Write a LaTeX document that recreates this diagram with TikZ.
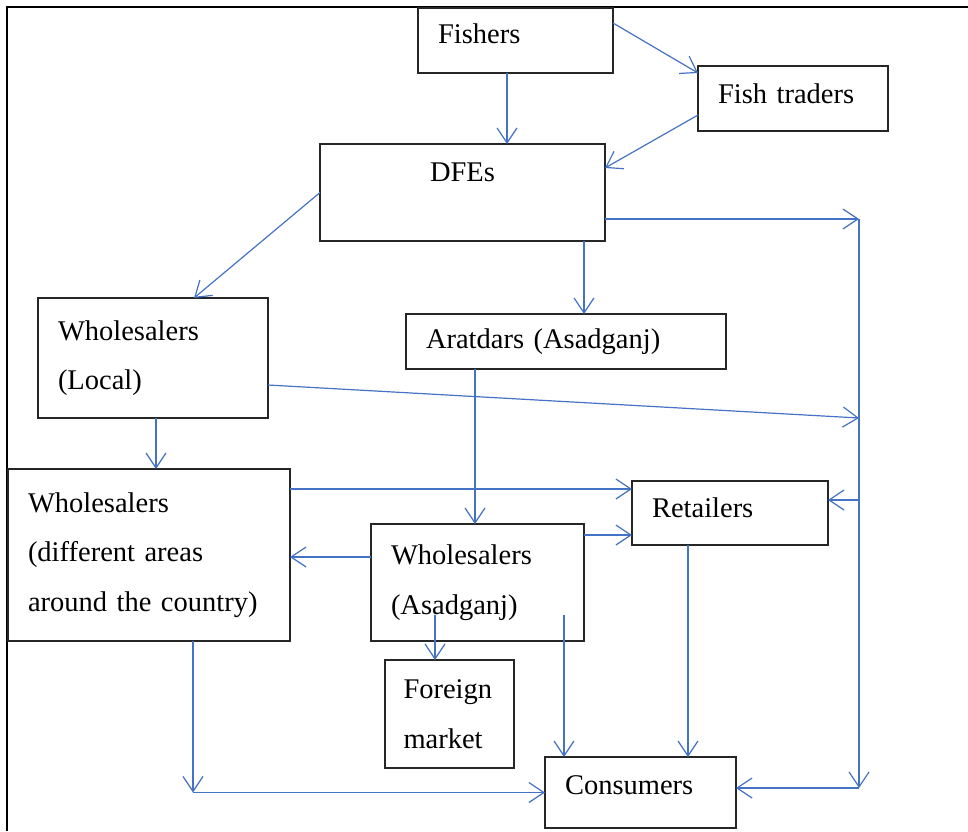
\documentclass[tikz,border=0pt]{standalone}
\usepackage{fontspec}
\setmainfont{Liberation Serif}
\usetikzlibrary{arrows.meta}
\definecolor{flowblue}{HTML}{4472C4}

\begin{document}
\begin{tikzpicture}[
                x=1pt, y=-1pt,
                font=\fontsize{28.5}{49.5}\selectfont,
                FlowBox/.style={draw=black!85, line width=1.2pt, anchor=north west, inner xsep=20pt, inner ysep=4pt, align=left, outer sep=0pt},
                FlowArrow/.style={draw=flowblue, line width=1.2pt, -{Straight Barb[length=15pt, width=20pt]}},
            ]
            \useasboundingbox (0,0) rectangle (968,831);
            \draw[line width=1.8pt] (968,7) -- (7,7) -- (7,831);

            \node [FlowBox, text width=155pt, minimum height=65pt, text depth=14pt] (fishers) at (418,8) {Fishers};
            \node [FlowBox, text width=150pt, minimum height=65pt, text depth=10pt] (traders) at (698,66) {Fish traders};
            \node [FlowBox, text width=245pt, minimum height=97pt, text depth=40pt, align=center] (dfes) at (320,144) {DFEs};
            \node [FlowBox, text width=190pt, minimum height=120pt] (whlocal) at (38,298) {Wholesalers\\(Local)};
            \node [FlowBox, text width=280pt, minimum height=55pt] (aratdars) at (406,314) {Aratdars (Asadganj)};
            \node [FlowBox, text width=242pt, minimum height=172pt] (whareas) at (8,469) {Wholesalers\\(different areas\\around the country)};
            \node [FlowBox, text width=156pt, minimum height=64pt, text depth=10pt] (retailers) at (632,481) {Retailers};
            \node [FlowBox, text width=173pt, minimum height=117pt] (whasad) at (371,524) {Wholesalers\\(Asadganj)};
            \node [FlowBox, text width=92pt, inner xsep=18.5pt, minimum height=108pt] (foreign) at (385,660) {Foreign\\market};
            \node [FlowBox, text width=151pt, minimum height=71pt, text depth=14pt] (consumers) at (545,757) {Consumers};

            % collecting line on the right
            \coordinate (bustop) at (859,219);
            \coordinate (busmid) at (859,418);
            \coordinate (busret) at (859,500);
            \coordinate (busbot) at (859,788);
            \coordinate (areascorner) at ([xshift=185pt]whareas.south west |- consumers.west);

            \draw[FlowArrow] ([xshift=-8.5pt]fishers.south) -- ([xshift=-8.5pt]fishers.south |- dfes.north);
            \draw[FlowArrow] ([yshift=-15pt]fishers.north east) -- ([yshift=-7pt]traders.north west);
            \draw[FlowArrow] ([yshift=-49pt]traders.north west) -- ([yshift=-24pt]dfes.north east);
            \draw[FlowArrow] (dfes.west) -- ([xshift=156pt]whlocal.north west);
            \draw[FlowArrow] ([xshift=-21pt]dfes.south east) -- ([xshift=-21pt]dfes.south east |- aratdars.north);
            \draw[FlowArrow] ([yshift=22pt]dfes.south east) -- (bustop);
            \draw[FlowArrow] ([yshift=-27pt]whlocal.east) -- (busmid);
            \draw[FlowArrow] ([xshift=3pt]whlocal.south) -- ([xshift=3pt]whlocal.south |- whareas.north);
            \draw[FlowArrow] ([xshift=69pt]aratdars.south west) -- ([xshift=69pt]aratdars.south west |- whasad.north);
            \draw[FlowArrow] ([yshift=-20pt]whareas.north east) -- ([yshift=-20pt]whareas.north east -| retailers.west);
            \draw[FlowArrow] ([yshift=-11pt]whasad.north east) -- ([yshift=-11pt]whasad.north east -| retailers.west);
            \draw[FlowArrow] ([yshift=-33pt]whasad.north west) -- ([yshift=-33pt]whasad.north west -| whareas.east);
            \draw[FlowArrow] ([xshift=64pt, yshift=26pt]whasad.south west) -- ([xshift=64pt]whasad.south west |- foreign.north);
            \draw[FlowArrow] ([xshift=-20pt, yshift=26pt]whasad.south east) -- ([xshift=-20pt]whasad.south east |- consumers.north);
            \draw[FlowArrow] ([xshift=56pt]retailers.south west) -- ([xshift=56pt]retailers.south west |- consumers.north);
            \draw[FlowArrow] ([xshift=185pt]whareas.south west) -- (areascorner);
            \draw[FlowArrow] (areascorner) -- (consumers.west);
            \draw[FlowArrow] (bustop) -- (busbot);
            \draw[FlowArrow] (busret) -- (busret -| retailers.east);
            \draw[FlowArrow] (busbot) -- (busbot -| consumers.east);
        \end{tikzpicture}
\end{document}
